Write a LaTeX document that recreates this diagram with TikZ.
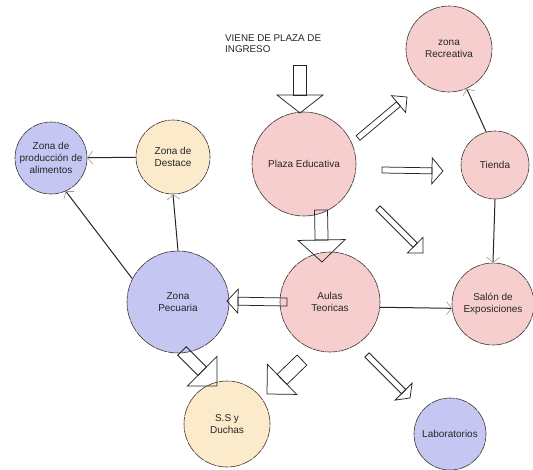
\documentclass[tikz,border=0pt]{standalone}
\usepackage{fontspec}
\setmainfont{Liberation Sans}
\usetikzlibrary{arrows.meta,calc}
\definecolor{pinkf}{RGB}{246,206,206}
\definecolor{bluef}{RGB}{198,198,242}
\definecolor{beigef}{RGB}{252,235,202}
\definecolor{edgec}{RGB}{60,50,50}
\tikzset{
  zone/.style={circle, draw=edgec, line width=0.6pt, dash pattern=on 12pt off 0.8pt,
    inner sep=0pt, align=center, font=\fontsize{10}{11.8}\selectfont, text=black!85},
  pinkzone/.style={zone, fill=pinkf},
  bluezone/.style={zone, fill=bluef},
  beigezone/.style={zone, fill=beigef},
  thinarr/.style={line width=1pt, draw=black!85,
    -{Straight Barb[length=5pt,width=13pt,line width=0.6pt,color=gray!80]}},
  blockstyle/.style={draw=black!85, line width=0.75pt, line join=miter},
}
\newcommand\blockarr[5]{%
  \path let \p1=(#1), \p2=(#2) in \pgfextra{%
    \pgfmathsetmacro\baang{atan2(\y2-\y1,\x2-\x1)}%
    \pgfmathsetmacro\balen{veclen(\x2-\x1,\y2-\y1)}%
    \xdef\baang{\baang}\xdef\balen{\balen}\xdef\bax{\x1}\xdef\bay{\y1}};
  \begin{scope}[shift={(\bax,\bay)},rotate=\baang]
    \draw[blockstyle] (0pt,-#3pt) rectangle (\balen pt-#5pt,#3pt);
    \draw[blockstyle] (\balen pt-#5pt,-#4pt) -- (\balen pt,0pt) -- (\balen pt-#5pt,#4pt) -- cycle;
  \end{scope}}
\begin{document}
\begin{tikzpicture}[x=1pt,y=-1pt]
\useasboundingbox[fill=white] (0,0) rectangle (533,469);

% zones
\node[bluezone, minimum size=72pt] (prod) at (51,158) {Zona de\\producción de\\alimentos};
\node[beigezone, minimum size=74pt] (destace) at (173,157) {Zona de\\Destace};
\node[pinkzone, minimum size=104pt] (plaza) at (304,164) {Plaza Educativa};
\node[pinkzone, minimum size=86pt] (rec) at (449,49) {zona\\Recreativa};
\node[pinkzone, minimum size=68pt] (tienda) at (495,165) {Tienda};
\node[bluezone, minimum size=102pt] (pec) at (178,302) {Zona\\Pecuaria};
\node[pinkzone, minimum size=100pt] (aulas) at (330,302) {Aulas\\Teoricas};
\node[pinkzone, minimum size=82pt] (salon) at (493,304) {Salón de\\Exposiciones};
\node[beigezone, minimum size=86pt] (ss) at (227,424) {S.S y\\Duchas};
\node[bluezone, minimum size=72pt] (lab) at (450,434) {Laboratorios};

\node[anchor=north west, align=left, inner sep=0pt, font=\fontsize{9.8}{10.5}\selectfont, text=black!85]
  (viene) at (225,35) {VIENE DE PLAZA DE\\INGRESO};

% thin connectors
\draw[thinarr] (destace) -- (prod);
\draw[thinarr] (pec.north) -- (destace.south);
\draw[thinarr] (pec.153) -- (prod.-66);
\draw[thinarr] (tienda.105) -- (rec.-66);
\draw[thinarr] (tienda.south) -- (salon.north);
\draw[thinarr] (aulas.-6) -- (salon.186);

% block arrow end points
\coordinate (b1s) at (300,65);  \coordinate (b1e) at (300,113);
\coordinate (b2s) at (358,138); \coordinate (b2e) at (407,97);
\coordinate (b3s) at (382,170); \coordinate (b3e) at (443,171);
\coordinate (b4s) at (378,208); \coordinate (b4e) at (423,253);
\coordinate (b5s) at (321,210); \coordinate (b5e) at (322,262);
\coordinate (b6s) at (287,302); \coordinate (b6e) at (227,301);
\coordinate (b7s) at (182,351); \coordinate (b7e) at (217,386);
\coordinate (b8s) at (302,360); \coordinate (b8e) at (267,394);
\coordinate (b9s) at (367,355); \coordinate (b9e) at (410,398);

\blockarr{b1s}{b1e}{6.5}{23}{18}
\blockarr{b2s}{b2e}{3}{11}{11}
\blockarr{b3s}{b3e}{3}{13}{11}
\blockarr{b4s}{b4e}{3}{11}{11}
\blockarr{b5s}{b5e}{6.5}{23.5}{22}
\blockarr{b6s}{b6e}{4}{12}{11}
\blockarr{b7s}{b7e}{6}{21}{21}
\blockarr{b8s}{b8e}{7}{21}{21}
\blockarr{b9s}{b9e}{3}{12}{9}
\end{tikzpicture}
\end{document}
